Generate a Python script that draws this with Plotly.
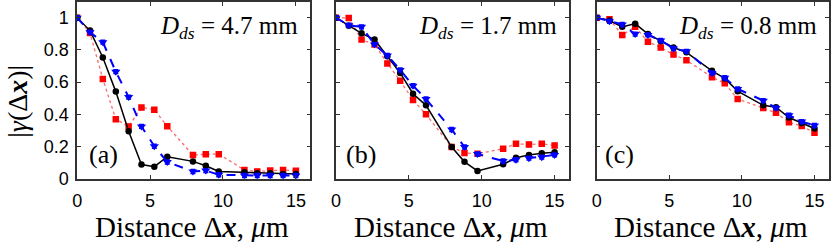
import plotly.graph_objects as go

# x positions of samples (um)
x = [0, 0.88, 1.76, 2.65, 3.53, 4.41, 5.29, 6.18, 7.94, 8.82, 9.71, 11.47, 12.35, 13.24, 14.12, 15.0]

# Panel (a) D_ds = 4.7 mm
a_black = [1.0, 0.92, 0.753, 0.541, 0.295, 0.088, 0.075, 0.137, 0.108, 0.081, 0.045, 0.04, 0.035, 0.035, 0.03, 0.03]
a_blue = [1.0, 0.91, 0.848, 0.665, 0.507, 0.325, 0.202, 0.104, 0.045, 0.051, 0.025, 0.02, 0.02, 0.02, 0.02, 0.02]
a_red = [1.0, 0.905, 0.619, 0.37, 0.325, 0.442, 0.429, 0.326, 0.147, 0.153, 0.153, 0.055, 0.045, 0.051, 0.055, 0.05]

# Panel (b) D_ds = 1.7 mm
b_black = [1.0, 0.95, 0.903, 0.864, 0.76, 0.657, 0.528, 0.456, 0.197, 0.105, 0.049, 0.09, 0.13, 0.148, 0.158, 0.164]
b_blue = [1.0, 0.953, 0.943, 0.834, 0.765, 0.676, 0.578, 0.495, 0.306, 0.197, 0.154, 0.11, 0.118, 0.128, 0.134, 0.148]
b_red = [1.0, 0.998, 0.864, 0.834, 0.716, 0.608, 0.489, 0.4, 0.197, 0.16, 0.155, 0.187, 0.217, 0.213, 0.217, 0.207]

# Panel (c) D_ds = 0.8 mm
c_black = [1.0, 0.982, 0.943, 0.963, 0.898, 0.854, 0.815, 0.785, 0.67, 0.623, 0.544, 0.456, 0.444, 0.38, 0.347, 0.312]
c_blue = [1.0, 0.978, 0.958, 0.898, 0.893, 0.858, 0.809, 0.791, 0.657, 0.627, 0.558, 0.485, 0.44, 0.395, 0.355, 0.331]
c_red = [1.0, 0.99, 0.893, 0.943, 0.85, 0.815, 0.771, 0.736, 0.631, 0.593, 0.495, 0.44, 0.41, 0.351, 0.327, 0.286]

panel_labels = ["(a)", "(b)", "(c)"]
distances = ["4.7", "1.7", "0.8"]
xticks = [0, 5, 10, 15]
yticks = [0, 0.2, 0.4, 0.6, 0.8, 1]

W, H = 831, 242
xdom = [(72.7, 307.7), (333.3, 568.3), (596.0, 830.0)]
ybot, ytop = 186.0, 0.0
ypx_per_unit = 169.5

fig = go.Figure()

series = [
    (a_red, a_black, a_blue),
    (b_red, b_black, b_blue),
    (c_red, c_black, c_blue),
]

for i, (red, black, blue) in enumerate(series):
    xa = "x" if i == 0 else f"x{i+1}"
    ya = "y" if i == 0 else f"y{i+1}"
    fig.add_trace(go.Scatter(
        x=x, y=red, xaxis=xa, yaxis=ya, mode="lines+markers",
        line=dict(color="#ff6b6b", width=1.3, dash="dot"),
        marker=dict(symbol="square", size=6.5, color="#ff0000"),
        error_y=dict(type="constant", value=0.012, color="#ff0000", thickness=1.5, width=2),
        showlegend=False))
    fig.add_trace(go.Scatter(
        x=x, y=black, xaxis=xa, yaxis=ya, mode="lines+markers",
        line=dict(color="#000000", width=1.5),
        marker=dict(symbol="circle", size=6.5, color="#000000"),
        error_y=dict(type="constant", value=0.008, color="#000000", thickness=1.2, width=2),
        showlegend=False))
    fig.add_trace(go.Scatter(
        x=x, y=blue, xaxis=xa, yaxis=ya, mode="lines+markers",
        line=dict(color="#0000ff", width=2, dash="dash"),
        marker=dict(symbol="triangle-down", size=8, color="#0000ff"),
        error_y=dict(type="constant", value=0.012, color="#0000ff", thickness=1.5, width=2.5),
        showlegend=False))

sans = "Liberation Sans"
serif = "Liberation Serif"

layout = dict(
    width=W, height=H,
    margin=dict(l=0, r=0, t=0, b=0),
    paper_bgcolor="white", plot_bgcolor="white",
    font=dict(family=sans, size=18, color="black"),
)
yrange_top = (ybot - ytop) / ypx_per_unit
for i, (l, r) in enumerate(xdom):
    xk = "xaxis" if i == 0 else f"xaxis{i+1}"
    yk = "yaxis" if i == 0 else f"yaxis{i+1}"
    ya = "y" if i == 0 else f"y{i+1}"
    xa = "x" if i == 0 else f"x{i+1}"
    layout[xk] = dict(
        domain=[l / W, r / W], range=[0, 16], anchor=ya,
        tickvals=xticks, ticks="inside", ticklen=4, tickwidth=1, tickcolor="#333",
        showline=True, linecolor="#333", linewidth=1.5, mirror="allticks",
        showgrid=False, zeroline=False, ticklabelstandoff=5,
        tickfont=dict(family=sans, size=18, color="black"),
    )
    layout[yk] = dict(
        domain=[(H - ybot) / H, (H - ytop) / H], range=[0, yrange_top], anchor=xa,
        tickvals=yticks, ticks="inside", ticklen=4, tickwidth=1, tickcolor="#333",
        showline=True, linecolor="#333", linewidth=1.5, mirror="allticks",
        showgrid=False, zeroline=False, showticklabels=(i == 0), ticklabelstandoff=3,
        tickfont=dict(family=sans, size=18, color="black"),
    )
fig.update_layout(**layout)

label_pos = [0.114, 0.109, 0.098]
for i, (l, r) in enumerate(xdom):
    xa = "x" if i == 0 else f"x{i+1}"
    ya = "y" if i == 0 else f"y{i+1}"
    fig.add_annotation(
        xref=f"{xa} domain", yref=f"{ya} domain", x=0.955, y=0.855,
        xanchor="right", yanchor="middle", showarrow=False,
        text=f"<i>D</i><sub><i>ds</i></sub> = {distances[i]} mm",
        font=dict(family=serif, size=25, color="black"))
    fig.add_annotation(
        xref=f"{xa} domain", yref=f"{ya} domain", x=label_pos[i], y=0.14,
        xanchor="center", yanchor="middle", showarrow=False,
        text=panel_labels[i], font=dict(family=serif, size=26, color="black"))
    fig.add_annotation(
        xref="paper", yref="paper", x=((l + r) / 2 - 1.5) / W, y=1 - 236.5 / H,
        xanchor="center", yanchor="middle", showarrow=False,
        text="Distance Δ<b><i>x</i></b>, <i>μ</i>m",
        font=dict(family=serif, size=29, color="black"))

fig.add_annotation(
    xref="paper", yref="paper", x=13 / W, y=1 - 104 / H,
    xanchor="center", yanchor="middle", showarrow=False, textangle=-90,
    text="|<i>γ</i>(Δ<b><i>x</i></b>)|",
    font=dict(family=serif, size=28, color="black"))

fig.write_html(
    "out.html",
    config={"displayModeBar": False},
    post_script="document.body.style.margin='0';document.body.style.overflow='hidden';",
)
